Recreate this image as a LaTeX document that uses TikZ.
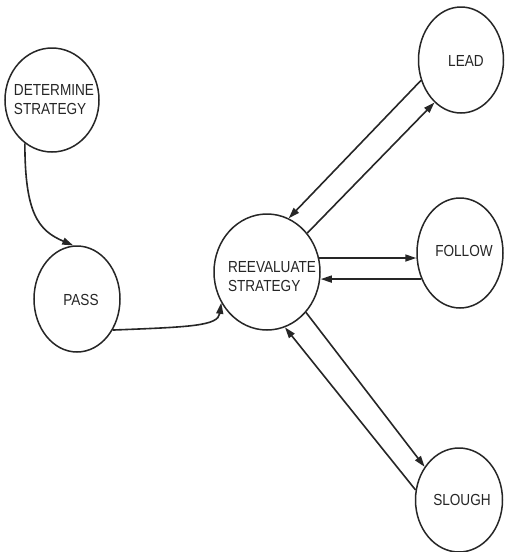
\documentclass[tikz,border=0pt]{standalone}
\usepackage{fontspec}
\setmainfont{Liberation Sans}
\usetikzlibrary{shapes.geometric,arrows.meta}
\newcommand\narrow[1]{\scalebox{0.85}[1]{#1}}
\begin{document}
\begin{tikzpicture}[x=1pt,y=-1pt,
  state/.style={draw=black!85,line width=1.5pt,ellipse,inner sep=0pt},
  lbl/.style={inner sep=0pt,font=\fontsize{16}{19}\selectfont,text=black!85,align=left},
  conn/.style={draw=black!85,line width=1.6pt,-{Triangle[length=11pt,width=7pt]}}]
\useasboundingbox[fill=white] (0,0) rectangle (504,552);
\node[state,minimum width=94pt,minimum height=104pt] (de) at (52,100) {};
\node[state,minimum width=86pt,minimum height=106pt] (pa) at (77,299) {};
\node[state,minimum width=106pt,minimum height=116pt] (re) at (267,272) {};
\node[state,minimum width=85pt,minimum height=106pt] (le) at (461,60) {};
\node[state,minimum width=86pt,minimum height=110pt] (fo) at (460,253) {};
\node[state,minimum width=87pt,minimum height=104pt] (sl) at (459,500) {};
\node[lbl] (det) at ([shift={(2,0)}]de.center) {\narrow{DETERMINE}\\\narrow{STRATEGY}};
\node[lbl] (pat) at ([shift={(4,1)}]pa.center) {\narrow{PASS}};
\node[lbl] (ret) at ([shift={(5,5)}]re.center) {\narrow{REEVALUATE}\\\narrow{STRATEGY}};
\node[lbl] (let) at ([shift={(5,1)}]le.center) {\narrow{LEAD}};
\node[lbl] (fot) at ([shift={(4,-2)}]fo.center) {\narrow{FOLLOW}};
\node[lbl] (slt) at ([shift={(3,0)}]sl.center) {\narrow{SLOUGH}};
\draw[conn] (de.238) .. controls +(0,70) and +(-35,-15) .. (pa.94);
\draw[conn] (pa.-41) .. controls (190,327) and (218,326) .. (re.214);
\draw[conn] (le.207) -- (re.68);
\draw[conn] (re.44) -- (le.238);
\draw[conn] (re.15) -- (re.15 -| fo.west);
\draw[conn] (fo.214) -- (fo.214 -| re.east);
\draw[conn] (re.-46) -- (sl.136);
\draw[conn] (sl.167) -- (re.-72);
\end{tikzpicture}
\end{document}
